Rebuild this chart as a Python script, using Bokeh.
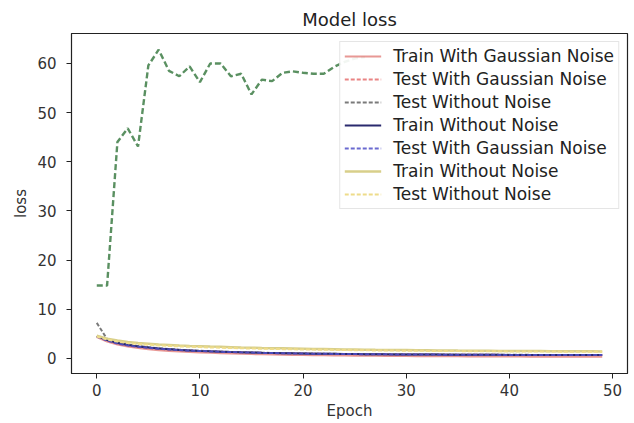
from bokeh.plotting import figure
from bokeh.models import Range1d, FixedTicker, Legend, LegendItem
from bokeh.embed import file_html
from bokeh.resources import INLINE

epochs = list(range(50))
green_epochs = list(range(27))
green_line = [14.8, 14.8, 44.0, 46.8, 43.1, 59.6, 62.8, 58.5, 57.4, 59.4, 56.2, 60.0, 60.0, 57.4,
              57.9, 53.7, 56.7, 56.4, 58.1, 58.4, 58.1, 57.9, 57.9, 59.3, 60.3, 61.0, 61.3]

red_train = [4.3, 3.4, 2.8, 2.4, 2.1, 1.85, 1.65, 1.5, 1.38, 1.27, 1.18, 1.1, 1.02, 0.96, 0.9, 0.85, 0.8,
             0.76, 0.72, 0.68, 0.65, 0.62, 0.6, 0.57, 0.55, 0.53, 0.51, 0.49, 0.47, 0.46, 0.44, 0.43, 0.42,
             0.41, 0.4, 0.39, 0.38, 0.37, 0.36, 0.35, 0.35, 0.34, 0.33, 0.33, 0.32, 0.32, 0.31, 0.31, 0.3, 0.3]
red_test = [4.5, 3.6, 3.0, 2.6, 2.3, 2.1, 1.9, 1.78, 1.65, 1.55, 1.46, 1.38, 1.32, 1.25, 1.2, 1.14, 1.1,
            1.05, 1.02, 0.98, 0.95, 0.93, 0.9, 0.88, 0.86, 0.84, 0.82, 0.81, 0.79, 0.78, 0.77, 0.76, 0.75,
            0.74, 0.73, 0.72, 0.71, 0.71, 0.7, 0.69, 0.69, 0.68, 0.67, 0.67, 0.66, 0.66, 0.65, 0.65, 0.64, 0.64]
gray_test = [7.2, 3.9, 3.2, 2.8, 2.5, 2.25, 2.05, 1.9, 1.75, 1.62, 1.52, 1.44, 1.36, 1.3, 1.24, 1.18, 1.13,
             1.09, 1.05, 1.01, 0.98, 0.95, 0.93, 0.9, 0.88, 0.86, 0.84, 0.83, 0.81, 0.8, 0.79, 0.78, 0.77,
             0.76, 0.75, 0.74, 0.73, 0.72, 0.72, 0.71, 0.7, 0.7, 0.69, 0.69, 0.68, 0.68, 0.67, 0.67, 0.66, 0.66]
navy_train = [4.5, 3.7, 3.1, 2.7, 2.4, 2.2, 2.0, 1.85, 1.7, 1.6, 1.5, 1.42, 1.35, 1.28, 1.22, 1.17, 1.12,
              1.08, 1.04, 1.0, 0.97, 0.94, 0.92, 0.9, 0.88, 0.86, 0.84, 0.82, 0.8, 0.79, 0.78, 0.77, 0.76,
              0.75, 0.74, 0.73, 0.72, 0.71, 0.7, 0.7, 0.69, 0.68, 0.68, 0.67, 0.67, 0.66, 0.66, 0.65, 0.65, 0.64]
blue_test = [4.4, 3.6, 3.0, 2.6, 2.35, 2.1, 1.95, 1.8, 1.68, 1.55, 1.48, 1.4, 1.32, 1.27, 1.2, 1.16, 1.1,
             1.07, 1.02, 0.99, 0.96, 0.93, 0.91, 0.89, 0.87, 0.85, 0.83, 0.82, 0.8, 0.78, 0.78, 0.76, 0.76,
             0.74, 0.74, 0.72, 0.72, 0.7, 0.7, 0.69, 0.69, 0.68, 0.67, 0.67, 0.66, 0.66, 0.65, 0.65, 0.64, 0.64]
khaki_train = [4.6, 4.0, 3.6, 3.3, 3.1, 2.95, 2.8, 2.7, 2.6, 2.52, 2.45, 2.38, 2.32, 2.26, 2.2, 2.15, 2.1,
               2.06, 2.02, 1.98, 1.94, 1.9, 1.87, 1.84, 1.81, 1.78, 1.75, 1.72, 1.7, 1.68, 1.66, 1.64, 1.62,
               1.6, 1.58, 1.56, 1.55, 1.53, 1.52, 1.5, 1.49, 1.48, 1.47, 1.46, 1.45, 1.44, 1.43, 1.42, 1.41, 1.4]
yellow_test = [4.4, 3.8, 3.4, 3.1, 2.9, 2.75, 2.62, 2.5, 2.42, 2.34, 2.27, 2.2, 2.14, 2.08, 2.03, 1.98, 1.94,
               1.9, 1.86, 1.82, 1.79, 1.76, 1.73, 1.7, 1.67, 1.65, 1.62, 1.6, 1.58, 1.56, 1.54, 1.52, 1.5,
               1.49, 1.47, 1.46, 1.44, 1.43, 1.42, 1.41, 1.4, 1.39, 1.38, 1.37, 1.36, 1.35, 1.34, 1.33, 1.32, 1.31]

x_ticks = [0, 10, 20, 30, 40, 50]
y_ticks = [0, 10, 20, 30, 40, 50, 60]

FONT = "DejaVu Sans"

p = figure(width=634, height=423, output_backend="svg", toolbar_location=None,
           x_range=Range1d(-2.45, 51.45), y_range=Range1d(-3.1, 66.1),
           min_border_left=71, min_border_right=7, min_border_top=33, min_border_bottom=50,
           title="Model loss")
p.title.align = "center"
p.title.text_font = FONT
p.title.text_font_size = "18px"
p.title.text_font_style = "normal"
p.title.text_color = "#222222"
p.title.standoff = 8
p.outline_line_color = "#222222"
p.outline_line_width = 1.2
p.grid.visible = False

for ax, ticks, label in ((p.xaxis, x_ticks, "Epoch"), (p.yaxis, y_ticks, "loss")):
    ax.ticker = FixedTicker(ticks=ticks)
    ax.axis_label = label
    ax.axis_label_text_font = FONT
    ax.axis_label_text_font_size = "15px"
    ax.axis_label_text_font_style = "normal"
    ax.axis_label_text_color = "#333333"
    ax.major_label_text_font = FONT
    ax.major_label_text_font_size = "15px"
    ax.major_label_text_color = "#333333"
    ax.minor_tick_line_color = None
    ax.major_tick_out = 5
    ax.major_tick_in = 0
    ax.axis_line_color = "#222222"
    ax.major_tick_line_color = "#222222"
p.xaxis.major_label_standoff = 5
p.xaxis.axis_label_standoff = 3
p.yaxis.major_label_standoff = 10
p.yaxis.axis_label_standoff = 4

g = p.line(green_epochs, green_line, line_color="#3d7d45", line_width=2.4, line_dash="6 3", line_alpha=0.85)

r1 = p.line(epochs, red_train, line_color="#d9534f", line_width=2, line_alpha=0.6)
r2 = p.line(epochs, red_test, line_color="#e05050", line_width=2, line_dash="4 2", line_alpha=0.7)
r3 = p.line(epochs, gray_test, line_color="#7a7a7a", line_width=2, line_dash="4 2")
r4 = p.line(epochs, navy_train, line_color="#2a2a6e", line_width=2)
r5 = p.line(epochs, blue_test, line_color="#5050c8", line_width=2, line_dash="4 2", line_alpha=0.85)
r6 = p.line(epochs, khaki_train, line_color="#d8cf8a", line_width=2.5)
r7 = p.line(epochs, yellow_test, line_color="#eedc8a", line_width=2, line_dash="4 2")

legend = Legend(items=[
    LegendItem(label="Train With Gaussian Noise", renderers=[r1]),
    LegendItem(label="Test With Gaussian Noise", renderers=[r2]),
    LegendItem(label="Test Without Noise", renderers=[r3]),
    LegendItem(label="Train Without Noise", renderers=[r4]),
    LegendItem(label="Test With Gaussian Noise", renderers=[r5]),
    LegendItem(label="Train Without Noise", renderers=[r6]),
    LegendItem(label="Test Without Noise", renderers=[r7]),
], location="top_right")
legend.label_text_font = FONT
legend.label_text_font_size = "17px"
legend.label_text_color = "#222222"
legend.glyph_width = 37
legend.glyph_height = 20
legend.label_height = 20
legend.spacing = 3
legend.padding = 4
legend.margin = 8
legend.label_standoff = 12
legend.border_line_color = "#cccccc"
legend.background_fill_alpha = 0.92
p.add_layout(legend)

open("out.html", "w").write(file_html(p, INLINE))
